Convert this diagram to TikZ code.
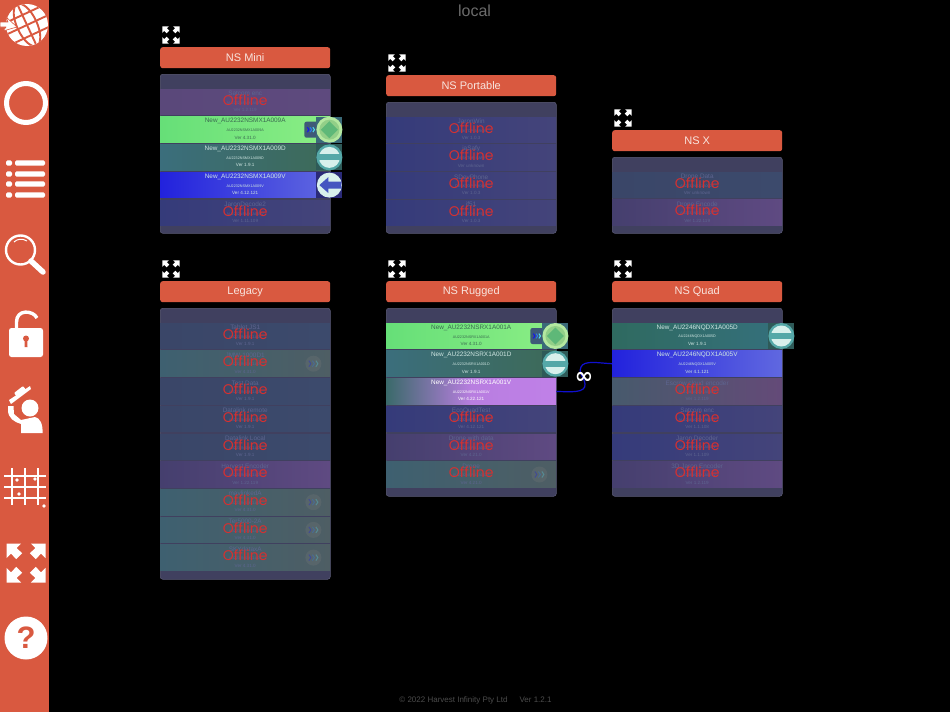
\documentclass[tikz,border=0pt]{standalone}
\usepackage{fontspec}
\setmainfont{Liberation Sans}
\newfontfamily\offfont{Poppins}
\newfontfamily\symfont{DejaVu Sans}
\usetikzlibrary{positioning}
\definecolor{railred}{HTML}{D95940}
\definecolor{panelgrey}{HTML}{40405F}
\definecolor{panelline}{HTML}{5C5C78}
\definecolor{dimtext}{HTML}{5E6590}
\definecolor{offred}{HTML}{D63030}
\definecolor{headtext}{HTML}{F8E4DE}
\definecolor{greentext}{HTML}{3A6A50}
\definecolor{paletext}{HTML}{CFE6E2}
\definecolor{linkblue}{HTML}{1010D0}
\definecolor{chevA}{HTML}{1414F0}
\definecolor{chevB}{HTML}{2A7AF0}
\definecolor{chevC}{HTML}{50E0F0}
\definecolor{chevbox}{HTML}{3E5A78}
\definecolor{runsquare}{HTML}{3A6A78}
\definecolor{runring}{HTML}{B4E8A0}
\definecolor{rundisc}{HTML}{92CF88}
\definecolor{rundiamond}{HTML}{5EB878}
\definecolor{stopsquare}{HTML}{2E5A58}
\definecolor{stopring}{HTML}{55A8A8}
\definecolor{paleface}{HTML}{D8F0EC}
\definecolor{backsquare}{HTML}{2A2A78}
\definecolor{backarrow}{HTML}{4555C0}
\definecolor{purpleL}{HTML}{3A6A6A}
\definecolor{purpleM}{HTML}{B87EE0}
\definecolor{purpleR}{HTML}{C080E8}
% a tint of the tiles: name, left, right
\newcommand{\tiletint}[3]{%
 \definecolor{#1L}{HTML}{#2}\definecolor{#1R}{HTML}{#3}%
 \tikzset{#1/.style={left color=#1L,right color=#1R}}}
\tiletint{dimblue}{353B7A}{44447A}
\tiletint{dimslate}{3A4668}{3C4A6C}
\tiletint{dimteal}{3E6070}{4E5E64}
\tiletint{dimplum}{453F6E}{5F4A82}
\tiletint{dimmix}{475A6C}{644A78}
\tiletint{dimviolet}{5A487A}{5E4A7E}
\tiletint{livegreen}{66DF78}{8BEE85}
\tiletint{livesea}{3B6E7C}{3D6A58}
\tiletint{livequad}{2F6A60}{35707C}
\tiletint{liveblue}{2222DD}{6068E0}
\tikzset{
 headbox/.style={draw=none,fill=railred,rounded corners=2.5pt,minimum width=170pt,minimum height=21pt,inner sep=0pt,text=headtext,font=\fontsize{11}{11}\selectfont,anchor=north west},
 panelbox/.style={draw=panelline,line width=.5pt,fill=panelgrey,rounded corners=2.5pt,minimum width=170pt,inner sep=0pt,anchor=north west},
 tilebox/.style={minimum width=170pt,minimum height=25.6pt,inner sep=0pt,anchor=north west},
 nametext/.style={inner sep=0pt,font=\fontsize{6.4}{7}\selectfont},
 subtext/.style={inner sep=0pt,font=\fontsize{3.7}{5}\selectfont},
 vertext/.style={inner sep=0pt,font=\fontsize{4.6}{5}\selectfont},
 offtext/.style={inner sep=0pt,text=offred,font=\offfont\fontsize{14}{14}\selectfont},
 livepurple/.style={left color=purpleL,right color=purpleR,middle color=purpleM},
 expandicon/.pic={
  \foreach \a in {0,90,180,270}
   \fill[white,rotate=\a] (1,1)--(.25,1)--(.48,.77)--(.2,.5)--(.5,.2)--(.77,.48)--(1,.25)--cycle;
 },
 chevrons/.pic={
  \draw[line width=1pt,chevA] (-4.5,-3)--(-2.5,0)--(-4.5,3);
  \draw[line width=1pt,chevB] (-1,-3)--(1,0)--(-1,3);
  \draw[line width=1pt,chevC] (2.5,-3)--(4.5,0)--(2.5,3);
 },
 runbutton/.pic={
  \fill[runsquare] (-13,-13) rectangle (13,13);
  \fill[runring] (0,0) circle (13);
  \fill[rundisc] (0,0) circle (10);
  \fill[rundiamond] (-8.5,0)--(0,-8.5)--(8.5,0)--(0,8.5)--cycle;
 },
 stopbutton/.pic={
  \fill[stopsquare] (-13,-13) rectangle (13,13);
  \fill[stopring] (0,0) circle (13);
  \begin{scope}
   \clip (0,0) circle (10.5);
   \fill[paleface] (-11,-11) rectangle (11,-3);
   \fill[paleface] (-11,3) rectangle (11,11);
  \end{scope}
 },
 backbutton/.pic={
  \fill[backsquare] (-13,-13) rectangle (13,13);
  \fill[paleface] (0,0) circle (12.5);
  \fill[backarrow] (-10,0)--(-1,-8)--(-1,-3.5)--(12,-3.5)--(12,3.5)--(-1,3.5)--(-1,8)--cycle;
 }
}
% one panel: name, x, top, bottom, label
\newcommand{\devpanel}[5]{%
 \def\pname{#1}\def\px{#2}
 \pgfmathsetmacro{\py}{#3+27}
 \pgfmathsetmacro{\ph}{#4-#3-27}
 \pic[scale=8.7] at ({#2+11},{#3-12}) {expandicon};
 \node[headbox] (#1-head) at (#2,#3) {#5};
 \node[panelbox,minimum height=\ph pt] (#1) at (#2,\py) {};
}
% offline tile: index, tint, title, sub, version
\newcommand{\offtile}[5]{%
 \node[tilebox,#2] (\pname-#1) at (\px,{\py+15+27.7*#1}) {};
 \node[nametext,text=dimtext] (\pname-#1-t) at ([yshift=-4.5pt]\pname-#1.north) {#3};
 \node[subtext,text=dimtext] (\pname-#1-s) at ([yshift=-14pt]\pname-#1.north) {#4};
 \node[vertext,text=dimtext] (\pname-#1-v) at ([yshift=-21pt]\pname-#1.north) {#5};
 \node[offtext] (\pname-#1-o) at ([yshift=-11pt]\pname-#1.north) {Offline};
}
% live tile: index, tint, text colour, title, sub, version
\newcommand{\livetile}[6]{%
 \node[tilebox,#2] (\pname-#1) at (\px,{\py+15+27.7*#1}) {};
 \node[nametext,text=#3] (\pname-#1-t) at ([yshift=-4.5pt]\pname-#1.north) {#4};
 \node[subtext,text=#3] (\pname-#1-s) at ([yshift=-14pt]\pname-#1.north) {#5};
 \node[vertext,text=#3] (\pname-#1-v) at ([yshift=-21pt]\pname-#1.north) {#6};
}
\newcommand{\dimchevrons}[1]{%
 \fill[gray,opacity=.22] ([xshift=-17pt]#1.east) circle (8);
 \pic[opacity=.3] at ([xshift=-17pt]#1.east) {chevrons};
}
\newcommand{\gochevrons}[1]{%
 \fill[chevbox,rounded corners=2pt] ([xshift=-26pt,yshift=-8pt]#1.east) rectangle ([xshift=-12pt,yshift=8pt]#1.east);
 \pic[scale=.8] at ([xshift=-19.5pt]#1.east) {chevrons};
}
\begin{document}
\begin{tikzpicture}[x=1pt,y=-1pt,line join=round]
 \useasboundingbox[fill=black] (0,0) rectangle (950,712);
 % left rail
 \fill[railred] (0,0) rectangle (49,712);
 % globe
 \fill[white] (27,25) circle (21);
 \begin{scope}
  \clip (27,25) circle (21);
  \begin{scope}[rotate around={25:(27,25)}]
   \draw[railred,line width=1.9pt] (27,25) ellipse (10 and 23);
   \draw[railred,line width=1.9pt] (27,4)--(27,46);
   \foreach \y in {14,25,36} \draw[railred,line width=1.9pt] (4,\y)--(50,\y);
  \end{scope}
 \end{scope}
 \fill[white,draw=railred,line width=.6pt] (0,22)--(8,22)--(6,17)--(17,27)--(3,31)--(6,27)--(0,27)--cycle;
 % ring
 \draw[white,line width=5pt] (26,103) circle (19.5);
 % list
 \foreach \y in {163,174,184,195} {
  \fill[white,rounded corners=1.5pt] (6,\y-2.7) rectangle (12,\y+2.7);
  \fill[white,rounded corners=1.5pt] (15,\y-2.7) rectangle (45,\y+2.7);
 }
 % magnifier
 \draw[white,line width=2.4pt] (20.5,250) circle (14.5);
 \draw[white,line width=5.5pt,line cap=round] (31,261)--(43,272);
 \draw[white,line width=1pt] (14,242) .. controls (17,239) and (22,238) .. (27,241);
 % lock
 \draw[white,line width=3.4pt] (16.5,330)--(16.5,322) .. controls (16.5,309) and (33,310) .. (37,318);
 \fill[white,rounded corners=2.5pt] (9,328) rectangle (43,357);
 \fill[railred] (26,338.5) circle (3);
 \fill[railred] (24.8,340)--(27.2,340)--(27.5,347)--(24.5,347)--cycle;
 % user with hat
 \fill[white] (30,408) circle (8.5);
 \fill[white] (8,406)--(13.5,406)--(14,414)--(21,420)--(35,417) .. controls (40,418) and (43,424) .. (42.5,433)--(21,433)--(21,424) .. controls (14,422) and (8,418) .. (8,410)--cycle;
 \fill[white] (9,400)--(30,386)--(31,389)--(11,404)--cycle;
 \fill[white,rounded corners=1pt] (14,393)--(23,386)--(27,391)--(18,398)--cycle;
 % grid
 \foreach \x in {12,25,38} \draw[white,line width=1.6pt] (\x,468)--(\x,505);
 \foreach \y in {476,487,498} \draw[white,line width=1.6pt] (4,\y)--(46,\y);
 \foreach \x/\y in {17/480,35/479,19/494,44/506} \fill[white] (\x,\y) circle (1.8);
 % expand, help
 \pic[scale=19.5] at (26,563) {expandicon};
 \fill[white] (26,638) circle (21.5);
 \node[inner sep=0pt,text=railred,font=\bfseries\fontsize{31}{31}\selectfont] (helpmark) at (26,638) {?};

 \node[inner sep=0pt,text=white!42!black,font=\fontsize{16}{16}\selectfont] (pagetitle) at (474.5,11) {local};
 \node[inner sep=0pt,text=white!30!black,font=\fontsize{8}{9}\selectfont] (footer) at (475.5,700) {\textcopyright{} 2022 Harvest Infinity Pty Ltd\hspace{12pt}Ver 1.2.1};

 % NS Mini
 \devpanel{mini}{160}{47}{233}{NS Mini}
 \offtile{0}{dimviolet}{Satcom enc}{AU2232NSMX1A007E}{Ver 1.2.119}
 \livetile{1}{livegreen}{greentext}{New\_AU2232NSMX1A009A}{AU2232NSMX1A009A}{Ver 4.31.0}
 \livetile{2}{livesea}{paletext}{New\_AU2232NSMX1A009D}{AU2232NSMX1A009D}{Ver 1.9.1}
 \livetile{3}{liveblue}{paletext}{New\_AU2232NSMX1A009V}{AU2232NSMX1A009V}{Ver 4.12.121}
 \offtile{4}{dimblue}{JaronDecode2}{AU2232NSMX1A004V}{Ver 1.11.109}
 \gochevrons{mini-1}
 \pic at ([xshift=-1pt]mini-1.east) {runbutton};
 \pic at ([xshift=-1pt]mini-2.east) {stopbutton};
 \pic at ([xshift=-1pt]mini-3.east) {backbutton};

 % NS Portable
 \devpanel{portable}{386}{75}{233}{NS Portable}
 \foreach \i/\tname/\tsub/\tver in {0/JaronWin/DESKTOP-JARON/Ver 1.0.3,1/jaSafy/DESKTOP-SAFY/Ver unknown,2/SDevPhone/DESKTOP-PHONE/Ver 1.0.3,3/jf51/DESKTOP-JF51/Ver 1.0.3}
  {\offtile{\i}{dimblue}{\tname}{\tsub}{\tver}}

 % NS X
 \devpanel{nsx}{612}{130}{233}{NS X}
 \offtile{0}{dimslate}{Drone Data}{AU2232NSX1A002D}{Ver unknown}
 \offtile{1}{dimplum}{Drone Encode}{AU2232NSX1A002V}{Ver 1.22.119}

 % Legacy
 \devpanel{legacy}{160}{281}{579}{Legacy}
 \foreach \i/\ttint/\tname/\tver in {0/dimslate/Tablet JS1/Ver 1.9.1,
   1/dimteal/JMW-1000D1/Ver 4.31.0,
   2/dimslate/Test Data/Ver 1.9.1,
   3/dimslate/Datalink remote/Ver 1.9.1,
   4/dimslate/Datalink Local/Ver 1.9.1,
   5/dimplum/Harvest Encoder/Ver 1.22.119,
   6/dimteal/mavlinkedA/Ver 4.31.0,
   7/dimteal/Ter5000-2A/Ver 4.31.0,
   8/dimteal/SKYdataxA/Ver 4.31.0}
  {\offtile{\i}{\ttint}{\tname}{AU2232NSMX1A00}{\tver}}
 \foreach \i in {1,6,7,8} {\dimchevrons{legacy-\i}}

 % NS Quad
 \devpanel{quad}{612}{281}{496}{NS Quad}
 \livetile{0}{livequad}{paletext}{New\_AU2246NQDX1A005D}{AU2246NQDX1A005D}{Ver 1.9.1}
 \livetile{1}{liveblue}{paletext}{New\_AU2246NQDX1A005V}{AU2246NQDX1A005V}{Ver 4.1.121}
 \offtile{2}{dimmix}{Escrow cloud encoder}{AU2246NQDX1A004V}{Ver 1.2.119}
 \offtile{3}{dimblue}{Satcom enc}{AU2246NQDX1A003V}{Ver 1.1.108}
 \offtile{4}{dimblue}{Jaron Decoder}{AU2246NQDX1A002V}{Ver 1.1.109}
 \offtile{5}{dimplum}{3D Jaron Encoder}{AU2246NQDX1A001V}{Ver 1.2.119}
 \pic at ([xshift=-1pt]quad-0.east) {stopbutton};

 % NS Rugged
 \devpanel{rugged}{386}{281}{496}{NS Rugged}
 \livetile{0}{livegreen}{greentext}{New\_AU2232NSRX1A001A}{AU2232NSRX1A001A}{Ver 4.31.0}
 \livetile{1}{livesea}{paletext}{New\_AU2232NSRX1A001D}{AU2232NSRX1A001D}{Ver 1.9.1}
 \livetile{2}{livepurple}{white}{New\_AU2232NSRX1A001V}{AU2232NSRX1A001V}{Ver 4.22.121}
 \offtile{3}{dimblue}{EcoQuadTest}{AU2232NSRX1A003V}{Ver 4.12.121}
 \offtile{4}{dimplum}{Drone with data}{AU2232NSRX1A002V}{Ver 4.21.0}
 \offtile{5}{dimteal}{Drone}{AU2232NSRX1A002A}{Ver 4.21.0}
 \dimchevrons{rugged-5}
 \gochevrons{rugged-0}
 \pic at ([xshift=-1pt]rugged-0.east) {runbutton};
 \pic at ([xshift=-1pt]rugged-1.east) {stopbutton};

 % link between the panels
 \draw[line width=1.2pt,linkblue] (rugged-2.east)
  .. controls (572,392) and (586,393) .. (585,384)
  .. controls (584,376) and (578,374) .. (581,367)
  .. controls (584,360) and (598,363) .. (quad-1.west);
 \node[inner sep=0pt,text=white,font=\symfont\bfseries\fontsize{22}{22}\selectfont] (linkmark) at (584,378) {∞};
\end{tikzpicture}
\end{document}
